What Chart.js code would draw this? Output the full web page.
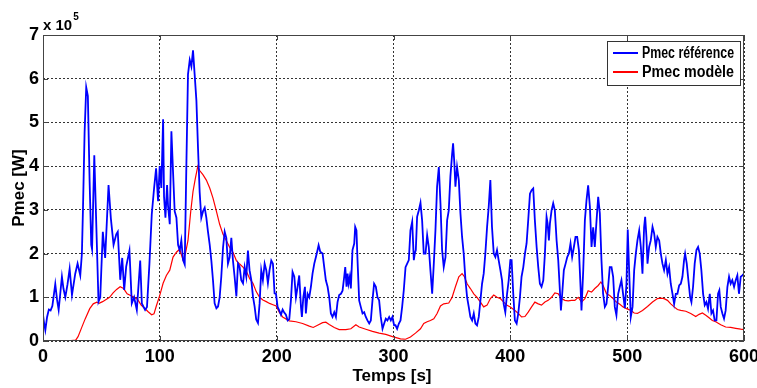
<!DOCTYPE html>
<html>
<head>
<meta charset="utf-8">
<script src="https://cdn.jsdelivr.net/npm/chart.js@4/dist/chart.umd.min.js"></script>
<style>
  html, body { margin: 0; padding: 0; background: #fff; }
  #wrap { width: 757px; height: 388px; }
</style>
</head>
<body>
<div id="wrap"><canvas id="pmec-chart" width="757" height="388"></canvas></div>
<script>
// Time axis (s) and power values (x 10^5 W)

// Pmec référence (blue)
const refTime = [
  0, 1, 2, 3.5, 5, 6.5, 8, 10.5, 12, 13.4, 16.2, 17.5, 19.1, 21, 22.8, 24.8, 27.6, 29.6, 31.9, 33.3,
  34.2, 35.6, 37, 38.4, 39.9, 41.3, 42, 43.9, 45.6, 47.5, 49, 51.2, 53.2, 56.1, 58.1, 60.4, 62.7, 64, 66.1, 67.8,
  69.5, 71.2, 74, 76, 78, 80.3, 83.2, 84.6, 87.4, 89, 91.1, 93.1, 95.1, 96.8,
  98.5, 99.9, 101.3, 102.8, 103.6, 104.8, 106.2, 107, 108.5, 109.9, 111.3, 112.7, 114.2, 115.6, 117, 118.4,
  119.9, 121.3, 122.7, 124.1, 125.6, 127, 128.4, 129.8, 131.3, 132.7, 134.1, 135.5, 137, 138.4, 139.8, 141.2,
  142.7, 144.1, 145.5, 146.9, 148.4, 149.8, 151.2, 152.6, 154.1, 155.5, 156.9, 158.3, 159.8, 161.2, 162.6, 164,
  165.5, 166.9, 168.3, 169.7, 171.2, 172.6, 174, 175.4, 176.8, 178.3, 179.7, 181.1, 182.5, 184, 185.4, 186.8,
  188.2, 189.7, 191.1, 192.5, 193.9, 195.4, 196.8, 198.2,
  199.4, 200.8, 202.2, 203.7, 205.1, 206.5, 207.9, 209.4, 210.8, 212.2, 213.6, 215.1, 216.5, 217.9, 219.3, 220.8,
  221.6, 222.8, 224.2, 225, 226.5, 227.9, 229.3, 230.7, 232.2, 233.6, 235, 235.9, 237.3, 239.3, 240.7, 242.1,
  243.6, 245, 246.4, 247.8, 249.3, 250.7, 252.1, 253.5, 255, 256.4, 257.8, 258.7, 259.8, 260.7, 261.5, 262.6,
  263.5, 264.9, 266.4, 267.2, 268.3, 269.2, 270.6, 272, 273.5, 274.9, 276.3, 277.7, 279.2, 280.6, 282, 283.4,
  284.9, 286.3, 287.7, 289.1, 290.6, 292, 293.4, 294.8, 296.3, 297.7, 299.1,
  300.5, 301.7, 303.1, 304.6, 306, 307.4, 308.8, 310.3, 311.7, 313.1, 314.5, 316, 317.4, 318.2, 319.1, 320.2,
  321.7, 323.1, 324.5, 325.9, 327.4, 328.8, 330.2, 331.6, 333.1, 334.5, 335.9, 337.3, 338.8, 340.2, 341.6, 343,
  344.5, 345.9, 347.3, 348.7, 350.2, 351, 352.1, 353, 354.4, 355.9, 357.3, 358.7, 360.1, 361.6, 363, 364.4,
  365.8, 367.3, 368.7, 370.1, 371.5, 373, 374.4, 375.8, 377.2, 378.6, 380.1, 381.5, 382.9, 384.3, 385.8, 387.2,
  388.6, 390, 391.5, 392.9, 394.3, 395.7, 397.2, 398.6, 400,
  401.1, 402.5, 403.9, 405.4, 406.8, 408.2, 409.6, 411.1, 412.5, 413.9, 415.3, 416.8, 418.2, 419.6, 421, 422.5,
  423.9, 425.3, 426.7, 428.2, 429.6, 431, 431.9, 433, 433.9, 435.3, 436.7, 438.1, 439.6, 441, 442.4, 443.3,
  444.4, 445.8, 447.3, 448.7, 450.1, 451.5, 452.9, 454.4, 455.8, 457.2, 458.7, 460.1, 460.9, 462.4, 463.8, 465.2,
  466.6, 468.1, 469.5, 470.9, 472.3, 473.8, 475.2, 476.6, 478, 479.4, 480.9, 482.3, 483.7, 485.1, 486.6, 488,
  489.4, 490.8, 492.3, 493.7, 495.1, 496.5, 498, 499.4, 500.5, 501.7, 503.1,
  504.6, 506, 507.4, 508.8, 510.3, 511.7, 513.1, 514.5, 515.4, 516.5, 517.4, 518.8, 520.2, 521.7, 523.1, 524.5,
  525.9, 527.4, 528.8, 530.2, 531.6, 533.1, 534.5, 535.9, 537.3, 538.8, 540.2, 541.6, 543, 544.5, 545.9, 547.3,
  548.7, 549.6, 551, 552.4, 553.9, 555, 556.4, 557.8, 559.3, 560.7, 562.1, 563.5, 565, 566.4, 567.8, 569.2,
  570.7, 572.1, 573.5, 574.9, 576.4, 577.8, 578.9, 580.1, 581.5, 582.9, 584.3, 585.8, 587.2, 588.6, 590, 591.5,
  592.9, 594.3, 595.7, 597.2, 598.6, 600
];
const refPower = [
  0.6, 0.4, 0.25, 0.55, 0.72, 0.7, 0.8, 1.3, 0.95, 0.71, 1.47, 1.2, 1.0, 1.3, 1.65, 1.05, 1.54, 1.77, 1.5, 2.0,
  3.0, 4.77, 5.8, 5.6, 3.65, 2.2, 2.1, 4.25, 2.67, 0.9, 1.0, 2.5, 1.9, 3.57, 2.8, 2.2, 2.44, 2.5, 1.4, 1.9,
  1.17, 1.7, 2.07, 0.86, 1.0, 0.71, 1.84, 0.86, 0.71, 0.78, 1.77, 2.9, 3.5, 3.95,
  3.2, 4.0, 3.5, 5.07, 3.3, 2.82, 3.57, 3.1, 2.67, 4.8, 3.87, 2.97, 2.82, 2.2, 2.07, 2.3,
  1.85, 1.75, 4.0, 6.1, 6.43, 6.28, 6.65, 6.1, 5.5, 4.4, 3.4, 2.82, 2.97, 3.05, 2.82, 2.5,
  2.2, 1.84, 1.39, 0.86, 0.75, 0.79, 1.0, 1.47, 2.14, 2.5, 2.36, 1.77, 1.92, 2.36, 1.84, 1.47,
  1.02, 1.77, 1.69, 1.39, 1.32, 1.69, 1.47, 2.07, 1.62, 1.39, 1.02, 0.79, 0.49, 0.41, 0.86, 1.62,
  1.39, 1.77, 1.62, 1.32, 1.62, 1.84, 1.77, 1.09,
  1.08, 0.78, 0.7, 0.6, 0.72, 0.65, 0.6, 0.47, 0.5, 0.93, 1.58, 1.47, 1.0, 1.24, 1.5, 0.78,
  0.55, 1.0, 1.24, 0.63, 1.08, 1.0, 1.24, 1.54, 1.77, 1.92, 2.08, 2.19, 2.04, 2.0, 1.69, 1.39,
  1.24, 1.0, 0.63, 0.55, 0.66, 0.55, 0.89, 1.05, 1.08, 1.15, 1.47, 1.69, 1.24, 1.54, 1.31, 1.47,
  1.2, 2.08, 2.23, 2.61, 2.53, 1.85, 0.93, 0.78, 0.63, 0.66, 0.55, 0.47, 0.4, 0.47, 0.93, 1.31,
  1.24, 1.0, 0.93, 0.55, 0.28, 0.4, 0.51, 0.47, 0.55, 0.47, 0.55,
  0.36, 0.36, 0.28, 0.4, 0.47, 0.78, 1.16, 1.69, 1.77, 1.85, 2.53, 2.73, 1.85, 2.0, 2.08, 2.84,
  2.99, 3.16, 2.76, 2.0, 2.0, 2.42, 2.15, 1.62, 1.08, 1.77, 2.53, 3.53, 3.98, 3.15, 2.08, 1.69,
  1.92, 2.76, 2.99, 3.76, 4.29, 4.52, 4.06, 3.53, 3.98, 3.68, 2.92, 2.38, 2.0, 1.39, 1.0, 0.78,
  0.55, 0.47, 0.63, 0.4, 0.36, 0.55, 0.93, 1.31, 1.54, 2.0, 2.61, 3.07, 3.68, 2.61, 2.0, 1.92,
  2.08, 1.85, 1.62, 1.39, 0.85, 0.66, 1.08, 1.39, 1.85,
  1.85, 1.08, 0.47, 0.4, 0.63, 1.0, 1.47, 1.69, 2.0, 2.23, 2.76, 3.37, 3.45, 3.49, 2.76, 2.15,
  1.69, 1.31, 1.24, 1.39, 2.0, 2.84, 2.69, 2.3, 2.69, 2.99, 3.15, 2.99, 2.3, 1.85, 1.16, 0.7,
  1.08, 1.62, 1.77, 1.92, 2.0, 2.23, 1.92, 2.15, 2.38, 2.38, 2.08, 1.24, 0.7, 1.62, 2.76, 3.22,
  3.56, 3.07, 2.15, 2.6, 2.15, 2.76, 3.3, 2.92, 1.85, 1.08, 0.78, 0.85, 1.24, 1.69, 1.69, 1.47,
  0.78, 0.59, 1.08, 1.24, 1.39, 1.08, 0.75, 1.3, 2.55, 1.6, 0.55,
  0.78, 1.62, 2.0, 2.3, 2.53, 2.15, 1.54, 2.6, 2.84, 2.38, 1.77, 2.15, 2.3, 2.61, 2.46, 2.15,
  2.38, 2.3, 2.0, 1.77, 1.62, 1.85, 1.54, 1.69, 1.31, 1.08, 0.85, 1.08, 1.08, 1.27, 1.31, 1.47,
  1.85, 2.0, 1.77, 1.39, 1.0, 0.89, 1.24, 1.77, 2.08, 2.15, 2.0, 1.62, 1.08, 0.82, 0.89, 0.74,
  1.08, 0.63, 0.7, 0.47, 0.47, 1.08, 1.16, 0.78, 0.63, 0.51, 0.7, 1.24, 1.47, 1.31, 1.39, 1.24,
  1.39, 1.5, 1.08, 1.47, 1.5, 1.54
];

// Pmec modèle (red)
const modTime = [
  0, 10, 20, 28, 30, 33, 36, 40, 43, 46, 48, 51, 54, 57, 60, 63, 66, 69, 72, 75, 78, 81, 84, 87, 90, 93, 95, 97,
  100, 102.8, 105.6, 108.5, 111.3, 114.2, 117, 119.9, 121.9, 124.1, 126.4, 128.4, 130.4, 132.5, 134.1, 137,
  139.8, 142.7, 145.5, 148.4, 151.2, 154.1, 156.9, 159.8, 162.6, 165.5, 168.3, 171.2, 174, 176.8, 179.7, 182.5,
  185.4, 188.2, 191.1, 193.9, 196.8, 199.6,
  202.2, 205.1, 210.8, 216.5, 222.2, 227.9, 231.3, 235, 239.3, 242.1, 245, 249.3, 253.5, 259.2, 263.5, 267.8,
  270.6, 276.3, 282, 287.7, 293.4, 299.1,
  306, 310.3, 314.5, 318.8, 323.1, 325.9, 328.8, 331.6, 334.5, 337.3, 340.2, 343, 347.3, 350.2, 353, 355.9,
  358.7, 360.7, 363, 365.8, 368.7, 371.5, 374.4, 377.2, 380.1, 382.9, 385.8, 388.6, 391.5, 394.3, 397.2, 400,
  403.9, 406.8, 409.6, 412.5, 415.3, 418.2, 421, 423.9, 426.7, 429.6, 432.4, 435.3, 438.1, 441, 443.8, 446.7,
  449.5, 452.4, 455.2, 458.1, 460.9, 463.8, 466.6, 469.5, 472.3, 475.2, 477.5, 479.4, 482.3, 485.1, 488, 490.8,
  493.7, 496.5, 499.4,
  503.1, 506, 508.8, 513.1, 517.4, 521.7, 525.9, 528.8, 531.6, 534.5, 537.3, 540.2, 543, 545.9, 550.2, 554.4,
  558.7, 561.6, 564.4, 567.3, 570.1, 572.9, 575.8, 580.1, 584.3, 588.6, 592.9, 597.2, 600
];
const modPower = [
  0, 0, 0, 0.02, 0.1, 0.3, 0.5, 0.74, 0.85, 0.89, 0.86, 0.9, 0.95, 1.0, 1.1, 1.18, 1.24, 1.2, 1.08, 1.04, 1.0, 0.95,
  0.82, 0.75, 0.67, 0.6, 0.62, 0.8,
  1.05, 1.32, 1.5, 1.62, 1.92, 2.03, 2.1, 1.85, 2.0, 2.3, 2.95, 3.42, 3.72, 4.0, 3.9, 3.8,
  3.68, 3.5, 3.27, 2.97, 2.67, 2.44, 2.3, 2.14, 2.03, 1.84, 1.76, 1.69, 1.6, 1.43, 1.32, 1.13,
  1.0, 0.94, 0.9, 0.86, 0.83, 0.8,
  0.66, 0.55, 0.46, 0.44, 0.4, 0.34, 0.31, 0.36, 0.42, 0.43, 0.38, 0.31, 0.26, 0.26, 0.28, 0.37,
  0.32, 0.27, 0.22, 0.18, 0.15, 0.1,
  0.05, 0.04, 0.09, 0.18, 0.28, 0.4, 0.44, 0.47, 0.51, 0.63, 0.8, 0.85, 0.87, 1.0, 1.24, 1.47,
  1.54, 1.47, 1.31, 1.2, 1.08, 1.0, 0.89, 0.78, 0.82, 0.97, 1.05, 1.0, 0.97, 0.89, 0.82, 0.78,
  0.7, 0.63, 0.55, 0.56, 0.66, 0.78, 0.89, 0.85, 0.82, 0.89, 0.93, 1.0, 1.1, 1.08, 0.97, 0.93,
  0.92, 0.93, 0.93, 1.0, 0.89, 0.97, 1.15, 1.12, 1.2, 1.27, 1.35, 1.27, 1.08, 1.04, 0.97, 0.89,
  0.84, 0.78, 0.74,
  0.7, 0.64, 0.63, 0.7, 0.79, 0.89, 0.97, 0.98, 0.97, 0.93, 0.85, 0.78, 0.72, 0.7, 0.68, 0.63,
  0.56, 0.61, 0.64, 0.59, 0.53, 0.47, 0.44, 0.37, 0.32, 0.31, 0.29, 0.27, 0.26
];

const xTicks = [0, 100, 200, 300, 400, 500, 600];
const yTicks = [0, 1, 2, 3, 4, 5, 6, 7];
const seriesLabels = ['Pmec référence', 'Pmec modèle'];

const toPoints = (xs, ys) => xs.map((x, i) => ({ x: x, y: ys[i] }));

const NARROW = '"Liberation Sans Narrow", "Liberation Sans", Arial, sans-serif';
const WIDE = '"Liberation Sans", Arial, sans-serif';

// draws the frame, inward ticks, x10^5 label, axis titles and the legend box
const matlabLook = {
  id: 'matlabLook',
  afterDraw(chart) {
    const ctx = chart.ctx;
    const a = chart.chartArea;
    const xs = chart.scales.x, ys = chart.scales.y;
    ctx.save();
    // frame
    ctx.strokeStyle = '#444';
    ctx.lineWidth = 1;
    ctx.strokeRect(a.left + 0.5, a.top + 0.5, a.right - a.left - 1, a.bottom - a.top - 1);
    // inward ticks
    ctx.beginPath();
    xTicks.forEach(v => {
      const px = Math.round(xs.getPixelForValue(v)) + 0.5;
      ctx.moveTo(px, a.bottom); ctx.lineTo(px, a.bottom - 5);
      ctx.moveTo(px, a.top); ctx.lineTo(px, a.top + 5);
    });
    yTicks.forEach(v => {
      const py = Math.round(ys.getPixelForValue(v)) + 0.5;
      ctx.moveTo(a.left, py); ctx.lineTo(a.left + 5, py);
      ctx.moveTo(a.right, py); ctx.lineTo(a.right - 5, py);
    });
    ctx.stroke();

    // exponent label
    ctx.fillStyle = '#000';
    ctx.textBaseline = 'alphabetic';
    ctx.textAlign = 'left';
    ctx.font = 'bold 15px ' + NARROW;
    ctx.fillText('x 10', 43, 30);
    const w = ctx.measureText('x 10').width;
    ctx.font = 'bold 10px ' + NARROW;
    ctx.fillText('5', 43 + w + 1, 20);

    // axis titles
    ctx.font = 'bold 17px ' + NARROW;
    ctx.textAlign = 'center';
    ctx.textBaseline = 'middle';
    ctx.fillText('Temps [s]', 392, 376);
    ctx.save();
    ctx.translate(19, 188);
    ctx.rotate(-Math.PI / 2);
    ctx.font = 'bold 17px ' + WIDE;
    ctx.fillText('Pmec [W]', 0, 0);
    ctx.restore();

    // legend
    const lx = 607.5, ly = 41.5, lw = 133, lh = 44;
    ctx.fillStyle = '#fff';
    ctx.fillRect(lx, ly, lw, lh);
    ctx.strokeStyle = '#333';
    ctx.strokeRect(lx, ly, lw, lh);
    const colors = ['#0000ff', '#ff0000'];
    ctx.textAlign = 'left';
    ctx.font = 'bold 16px ' + NARROW;
    seriesLabels.forEach((lab, i) => {
      const yy = 53 + i * 19;
      ctx.strokeStyle = colors[i];
      ctx.lineWidth = 2;
      ctx.beginPath();
      ctx.moveTo(613, yy); ctx.lineTo(638, yy);
      ctx.stroke();
      ctx.fillStyle = '#000';
      ctx.fillText(lab, 642, yy + 1, 92);
    });
    ctx.restore();
  }
};

const ctx = document.getElementById('pmec-chart').getContext('2d');
const pmecChart = new Chart(ctx, {
  type: 'line',
  data: {
    datasets: [
      {
        label: seriesLabels[0],
        data: toPoints(refTime, refPower),
        borderColor: '#0000ff',
        borderWidth: 1.8,
        pointRadius: 0,
        tension: 0
      },
      {
        label: seriesLabels[1],
        data: toPoints(modTime, modPower),
        borderColor: '#ff0000',
        borderWidth: 1.2,
        pointRadius: 0,
        tension: 0
      }
    ]
  },
  options: {
    responsive: false,
    animation: false,
    layout: { padding: { top: 35, right: 13, left: 0, bottom: 0 } },
    plugins: { legend: { display: false }, tooltip: { enabled: false } },
    scales: {
      x: {
        type: 'linear',
        min: 0, max: 600,
        afterBuildTicks: s => { s.ticks = xTicks.map(v => ({ value: v })); },
        afterFit: s => { s.height = 47; s.paddingLeft = 0; s.paddingRight = 0; },
        grid: { color: 'rgba(0,0,0,0.8)', drawTicks: false, lineWidth: 1 },
        border: { display: false, dash: [2, 2] },
        ticks: {
          padding: 5,
          color: '#000',
          font: { family: NARROW, size: 18, weight: 'bold' }
        }
      },
      y: {
        min: 0, max: 7,
        afterBuildTicks: s => { s.ticks = yTicks.map(v => ({ value: v })); },
        afterFit: s => { s.width = 43; s.paddingTop = 0; s.paddingBottom = 0; },
        grid: { color: 'rgba(0,0,0,0.8)', drawTicks: false, lineWidth: 1 },
        border: { display: false, dash: [2, 2] },
        ticks: {
          padding: 4,
          color: '#000',
          font: { family: NARROW, size: 18, weight: 'bold' }
        }
      }
    }
  },
  plugins: [matlabLook]
});
</script>
</body>
</html>
